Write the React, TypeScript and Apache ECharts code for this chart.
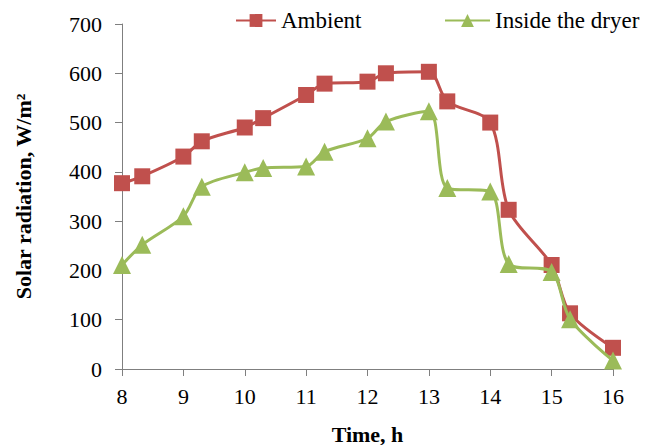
import React, { useEffect, useRef } from "react";
import * as echarts from "echarts";

const timeAmbient = [8, 8.33, 9, 9.3, 10, 10.3, 11, 11.3, 12, 12.3, 13, 13.3, 14, 14.3, 15, 15.3, 16];
const ambient = [377, 391, 431, 462, 490, 509, 556, 579, 583, 600, 603, 543, 500, 323, 211, 113, 43];
const timeDryer = [8, 8.33, 9, 9.3, 10, 10.3, 11, 11.3, 12, 12.3, 13, 13.3, 14, 14.3, 15, 15.3, 16];
const dryer = [211, 252, 310, 370, 399, 408, 411, 441, 468, 502, 523, 367, 360, 213, 197, 101, 17];
const seriesNames = ["Ambient", "Inside the dryer"];
const xAxisTitle = "Time, h";
const yAxisTitle = "Solar radiation, W/m²";

const FONT = "'Liberation Serif', 'Times New Roman', serif";

export default function App() {
  const ref = useRef<HTMLDivElement>(null);
  useEffect(() => {
    if (!ref.current) return;
    const chart = echarts.init(ref.current, undefined, { renderer: "svg" });
    const pair = (xs: number[], ys: number[]) => xs.map((x, i) => [x, ys[i]]);
    chart.setOption({
      animation: false,
      backgroundColor: "#ffffff",
      grid: {
        left: 122,
        right: 36,
        top: 24,
        bottom: 76,
        containLabel: false,
        outerBoundsMode: "none",
      },
      legend: [
        {
          data: [seriesNames[0]],
          left: 230,
          top: 4,
          itemWidth: 40,
          itemHeight: 16,
          textStyle: { fontFamily: FONT, fontSize: 23, color: "#000" },
        },
        {
          data: [seriesNames[1]],
          left: 439,
          top: 4,
          itemWidth: 45,
          itemHeight: 16,
          textStyle: { fontFamily: FONT, fontSize: 23, color: "#000" },
        },
      ],
      xAxis: {
        type: "value",
        min: 8,
        max: 16,
        interval: 1,
        name: xAxisTitle,
        nameLocation: "middle",
        nameGap: 54,
        nameTextStyle: { fontFamily: FONT, fontSize: 22, fontWeight: "bold", color: "#000" },
        axisLine: { show: true, lineStyle: { color: "#7f7f7f", width: 1 } },
        axisTick: { show: true, length: 7, lineStyle: { color: "#7f7f7f" } },
        axisLabel: { fontFamily: FONT, fontSize: 22, color: "#000", margin: 16 },
        splitLine: { show: false },
      },
      yAxis: {
        type: "value",
        min: 0,
        max: 700,
        interval: 100,
        name: yAxisTitle,
        nameLocation: "middle",
        nameGap: 88,
        nameRotate: 90,
        nameTextStyle: { fontFamily: FONT, fontSize: 22, fontWeight: "bold", color: "#000" },
        axisLine: { show: true, lineStyle: { color: "#7f7f7f", width: 1 } },
        axisTick: { show: true, length: 7, lineStyle: { color: "#7f7f7f" } },
        axisLabel: { fontFamily: FONT, fontSize: 22, color: "#000", margin: 20 },
        splitLine: { show: false },
      },
      series: [
        {
          name: seriesNames[0],
          type: "line",
          data: pair(timeAmbient, ambient),
          smooth: 0.3,
          symbol: "rect",
          symbolSize: 16,
          itemStyle: { color: "#C0504D" },
          lineStyle: { color: "#C0504D", width: 3 },
          z: 2,
        },
        {
          name: seriesNames[1],
          type: "line",
          data: pair(timeDryer, dryer),
          smooth: 0.3,
          symbol: "triangle",
          symbolSize: 18,
          itemStyle: { color: "#9BBB59" },
          lineStyle: { color: "#9BBB59", width: 3 },
          z: 3,
        },
      ],
    });
    return () => chart.dispose();
  }, []);
  return <div ref={ref} style={{ width: 649, height: 445, position: "absolute", left: 0, top: 0 }} />;
}
